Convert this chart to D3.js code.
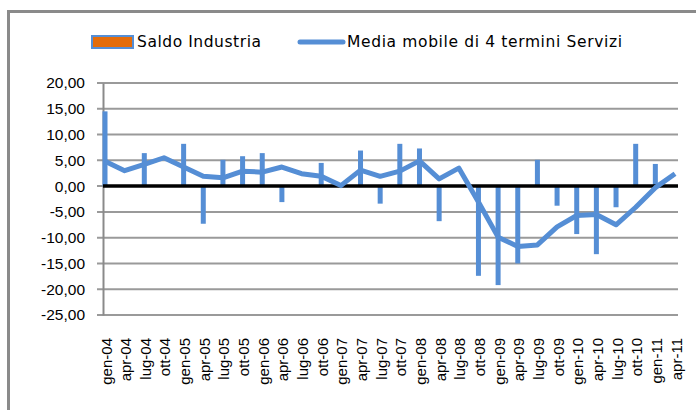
<!DOCTYPE html>
<html>
<head>
<meta charset="utf-8">
<script src="https://cdn.jsdelivr.net/npm/d3@7"></script>
<style>
  body { margin: 0; background: #fff; }
  svg { display: block; font-family: "DejaVu Sans", sans-serif; }
</style>
</head>
<body>
<div id="chart"></div>
<script>
// quarterly categories
var labels = ["gen-04","apr-04","lug-04","ott-04","gen-05","apr-05","lug-05","ott-05",
    "gen-06","apr-06","lug-06","ott-06","gen-07","apr-07","lug-07","ott-07",
    "gen-08","apr-08","lug-08","ott-08","gen-09","apr-09","lug-09","ott-09",
    "gen-10","apr-10","lug-10","ott-10","gen-11","apr-11"];

// Saldo Industria (bars)
var industria = [14.5, 0, 6.4, 0, 8.2, -7.3, 5.1, 5.8, 6.4, -3.1, 0, 4.5, 0, 6.9, -3.4, 8.2,
    7.3, -6.8, 0, -17.4, -19.2, -15.0, 5.1, -3.8, -9.3, -13.2, -4.1, 8.2, 4.3, 0];

// Media mobile di 4 termini Servizi (line)
var servizi = [4.8, 3.0, 4.2, 5.5, 3.7, 1.9, 1.6, 2.9, 2.7, 3.7, 2.4, 1.9, 0.1, 3.1, 1.9, 2.9,
    4.9, 1.4, 3.5, -3.1, -9.9, -11.7, -11.4, -7.9, -5.7, -5.5, -7.5, -4.1, -0.3, 2.4];

var yTicks = [-25, -20, -15, -10, -5, 0, 5, 10, 15, 20];

var width = 696, height = 410;
var blue = "#558ED5";

var svg = d3.select("#chart").append("svg")
    .attr("width", width)
    .attr("height", height);

// chart frame
svg.append("rect")
    .attr("x", 8.5).attr("y", 11.5)
    .attr("width", 720).attr("height", 420)
    .attr("fill", "none")
    .attr("stroke", "#8a8a8a")
    .attr("stroke-width", 3);

var x = d3.scalePoint().domain(labels).range([105, 675]);
var y = d3.scaleLinear().domain([-25, 20]).range([315, 83]);

var it = d3.formatLocale({ decimal: ",", thousands: ".", grouping: [3], currency: ["€", ""], minus: "-" });
var fmt = it.format(".2f");

// gridlines
svg.append("g").selectAll("line")
    .data(yTicks)
    .join("line")
    .attr("x1", 97).attr("x2", 678)
    .attr("y1", d => y(d)).attr("y2", d => y(d))
    .attr("stroke", "#9a9a9a")
    .attr("stroke-width", 2);

// y axis
var yAxis = svg.append("g")
    .attr("transform", "translate(103,0)")
    .call(d3.axisLeft(y).tickValues(yTicks).tickFormat(fmt).tickSizeInner(6).tickSizeOuter(0).tickPadding(12));
yAxis.select(".domain").attr("stroke", "#8a8a8a").attr("stroke-width", 2);
yAxis.selectAll(".tick line").remove();
yAxis.selectAll(".tick text")
    .attr("fill", "#000")
    .style("font-size", "15.5px");

// bars
svg.append("g").selectAll("rect")
    .data(industria)
    .join("rect")
    .attr("x", (d, i) => x(labels[i]) - 2.5)
    .attr("width", 5)
    .attr("y", d => y(Math.max(0, d)))
    .attr("height", d => Math.abs(y(d) - y(0)))
    .attr("fill", blue);

// zero line
svg.append("line")
    .attr("x1", 103).attr("x2", 678)
    .attr("y1", y(0)).attr("y2", y(0))
    .attr("stroke", "#000")
    .attr("stroke-width", 3.5);

// moving average line
var line = d3.line()
    .x((d, i) => x(labels[i]))
    .y(d => y(d));
svg.append("path")
    .datum(servizi)
    .attr("d", line)
    .attr("fill", "none")
    .attr("stroke", blue)
    .attr("stroke-width", 5)
    .attr("stroke-linejoin", "round");

// category labels
var xAxis = svg.append("g")
    .attr("transform", "translate(0,315)")
    .call(d3.axisBottom(x).tickSize(0));
xAxis.select(".domain").remove();
xAxis.selectAll(".tick text")
    .attr("transform", "rotate(-90)")
    .attr("x", -23)
    .attr("y", 0)
    .attr("dy", "0.4em")
    .attr("text-anchor", "end")
    .attr("fill", "#000")
    .style("font-size", "15px");

// legend
var legend = svg.append("g");
legend.append("rect")
    .attr("x", 92).attr("y", 36)
    .attr("width", 41).attr("height", 12)
    .attr("fill", "#E46C0A")
    .attr("stroke", blue)
    .attr("stroke-width", 2);
legend.append("text")
    .attr("x", 137).attr("y", 42)
    .attr("dy", "0.35em")
    .attr("textLength", 124)
    .style("font-size", "15.5px")
    .text("Saldo Industria");
legend.append("line")
    .attr("x1", 300).attr("x2", 343)
    .attr("y1", 42).attr("y2", 42)
    .attr("stroke", blue)
    .attr("stroke-width", 5)
    .attr("stroke-linecap", "round");
legend.append("text")
    .attr("x", 347).attr("y", 42)
    .attr("dy", "0.35em")
    .attr("textLength", 275)
    .style("font-size", "15.5px")
    .text("Media mobile di 4 termini Servizi");
</script>
</body>
</html>
